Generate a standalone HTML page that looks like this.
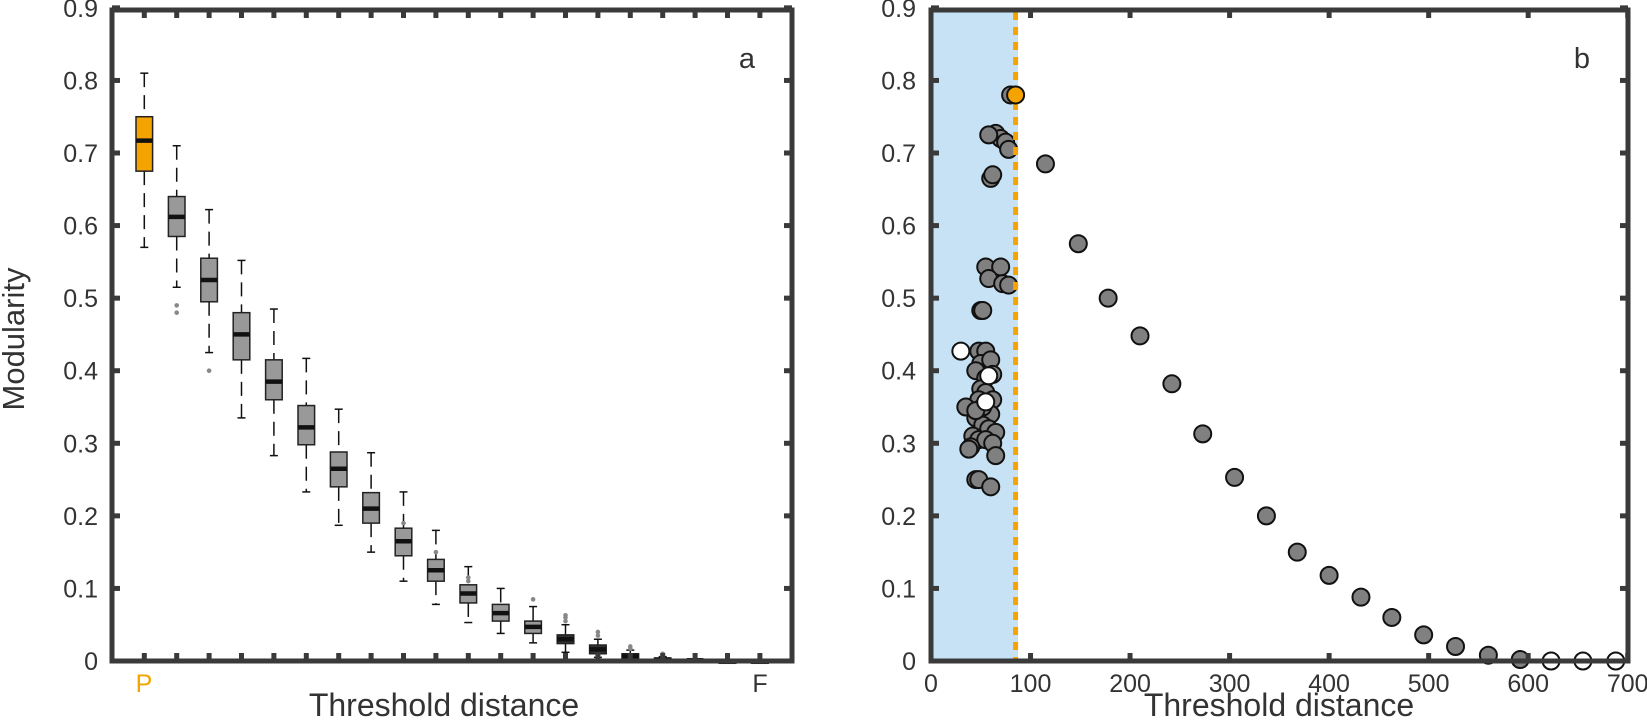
<!DOCTYPE html>
<html><head><meta charset="utf-8"><style>
html,body{margin:0;padding:0;background:#fff;}
svg{display:block;}
text{font-family:"Liberation Sans",sans-serif;fill:#333;}
</style></head><body>
<svg id="s" width="1647" height="721" xmlns="http://www.w3.org/2000/svg">
<rect x="931" y="10" width="87" height="651" fill="#c6e2f4"/>
<g id="L"></g><g id="R"></g>
<line x1="1015.6" y1="12" x2="1015.6" y2="659" stroke="#f4a300" stroke-width="5" stroke-dasharray="8,7"/>
<g id="R2"></g>
<rect x="112" y="10" width="680" height="651" fill="none" stroke="#3a3a3a" stroke-width="5"/>
<rect x="931" y="10" width="697" height="651" fill="none" stroke="#3a3a3a" stroke-width="5"/>
<g id="T"></g>
<text x="0" y="0" font-size="31" text-anchor="middle" transform="translate(24 339) rotate(-90)">Modularity</text>
<text x="444" y="716" font-size="32" text-anchor="middle">Threshold distance</text>
<text x="1279" y="716" font-size="32" text-anchor="middle">Threshold distance</text>
<text x="144" y="692" font-size="25" text-anchor="middle" style="fill:#f4a300">P</text>
<text x="760" y="692" font-size="25" text-anchor="middle">F</text>
<text x="747" y="68" font-size="29" text-anchor="middle">a</text>
<text x="1582" y="68" font-size="29" text-anchor="middle">b</text>
</svg>
<script>
var NS="http://www.w3.org/2000/svg";
function el(p,t,a,txt){var e=document.createElementNS(NS,t);for(var k in a)e.setAttribute(k,a[k]);if(txt!==undefined)e.textContent=txt;p.appendChild(e);return e;}
function Y(v){return 661-v*725.7;}
var T=document.getElementById('T'),L=document.getElementById('L'),R=document.getElementById('R'),R2=document.getElementById('R2');
for(var i=0;i<=9;i++){var y=Y(i/10);var lab=i==0?"0":(i/10).toFixed(1);
 el(T,'line',{x1:112,y1:y,x2:120,y2:y,stroke:'#3a3a3a','stroke-width':5});
 el(T,'line',{x1:792,y1:y,x2:784,y2:y,stroke:'#3a3a3a','stroke-width':5});
 el(T,'line',{x1:931,y1:y,x2:939,y2:y,stroke:'#3a3a3a','stroke-width':5});
 el(T,'line',{x1:1628,y1:y,x2:1620,y2:y,stroke:'#3a3a3a','stroke-width':5});
 el(T,'text',{x:98,y:y+9,'font-size':25,'text-anchor':'end'},lab);
 el(T,'text',{x:916,y:y+9,'font-size':25,'text-anchor':'end'},lab);
}
for(var i=0;i<20;i++){var x=144.3+32.4*i;
 el(T,'line',{x1:x,y1:661,x2:x,y2:653,stroke:'#3a3a3a','stroke-width':5});
 el(T,'line',{x1:x,y1:10,x2:x,y2:18,stroke:'#3a3a3a','stroke-width':5});}
for(var d=0;d<=700;d+=100){var x=931+d*0.9953;
 el(T,'line',{x1:x,y1:661,x2:x,y2:653,stroke:'#3a3a3a','stroke-width':5});
 el(T,'line',{x1:x,y1:10,x2:x,y2:18,stroke:'#3a3a3a','stroke-width':5});
 el(T,'text',{x:x,y:692,'font-size':25,'text-anchor':'middle'},""+d);}
var B=[[.57,.81,.675,.75,.717,[]],[.515,.71,.585,.64,.612,[.49,.48]],[.425,.622,.495,.555,.525,[.40]],
[.335,.552,.415,.48,.45,[]],[.283,.485,.36,.415,.385,[]],[.233,.417,.298,.352,.322,[]],[.187,.347,.24,.288,.265,[]],
[.15,.287,.19,.232,.21,[]],[.11,.233,.145,.183,.165,[.19]],[.078,.18,.11,.14,.125,[.15]],[.053,.13,.08,.105,.093,[.115,.11]],
[.038,.1,.055,.078,.066,[]],[.025,.075,.038,.055,.047,[.085]],[.012,.05,.024,.036,.03,[.06,.055,.063]],
[.005,.03,.01,.022,.016,[.04,.035]],[0,.015,.002,.01,.006,[.02,.017]],[0,.006,0,.004,.002,[.01,.006]],
[0,.002,0,.002,.001,[.004]],[0,.001,0,.001,0,[]],[0,0,0,.001,0,[]]];
B.forEach(function(b,i){var x=144.3+32.4*i;
 el(L,'line',{x1:x,y1:Y(b[1]),x2:x,y2:Y(b[3]),stroke:'#111','stroke-width':1.5,'stroke-dasharray':'14,8'});
 el(L,'line',{x1:x,y1:Y(b[2]),x2:x,y2:Y(b[0]),stroke:'#111','stroke-width':1.5,'stroke-dasharray':'14,8'});
 el(L,'line',{x1:x-4,y1:Y(b[1]),x2:x+4,y2:Y(b[1]),stroke:'#111','stroke-width':1.5});
 el(L,'line',{x1:x-4,y1:Y(b[0]),x2:x+4,y2:Y(b[0]),stroke:'#111','stroke-width':1.5});
 var h=Math.max(Y(b[2])-Y(b[3]),3);
 el(L,'rect',{x:x-8.3,y:Y(b[3]),width:16.6,height:h,fill:i==0?'#f4a300':(i>=13?'#333':'#999'),stroke:'#222','stroke-width':1.5});
 el(L,'line',{x1:x-8.3,y1:Y(b[4]),x2:x+8.3,y2:Y(b[4]),stroke:'#111','stroke-width':4.5});
 b[5].forEach(function(o){el(L,'circle',{cx:x,cy:Y(o),r:2.3,fill:'#888'});});
});
var G=[[65,.727],[70,.72],[75,.715],[78,.705],[60,.665],[62,.67],[58,.725],[55,.543],[70,.543],[58,.527],[72,.52],[78,.518],[50,.483],[52,.483],
[48,.427],[55,.427],[50,.41],[60,.415],[45,.4],[55,.39],[62,.395],[50,.375],[55,.37],[62,.36],[48,.36],[35,.35],[55,.345],[60,.34],[45,.335],[52,.325],
[58,.32],[65,.315],[42,.31],[48,.305],[55,.305],[62,.3],[40,.295],[38,.292],[65,.283],[45,.25],[48,.25],[60,.24],[52,.35],[45,.345],[80,.78],
[115,.685],[148,.575],[178,.5],[210,.448],[242,.382],[273,.313],[305,.253],[337,.2],[368,.15],[400,.118],[432,.088],[463,.06],[495,.036],[527,.02],[560,.008],[592,.002]];
var W=[[30,.427],[58,.393],[55,.357],[623,0],[655,0],[688,0]];
function dot(p,d,f){el(p,'circle',{cx:931+d[0]*0.9953,cy:Y(d[1]),r:8.5,fill:f,stroke:'#111','stroke-width':2});}
G.forEach(function(d){dot(R,d,'#808080');});
W.forEach(function(d){dot(d[0]>600?R2:R,d,'#fff');});
dot(R2,[85,.78],'#f4a300');
</script>
</body></html>
